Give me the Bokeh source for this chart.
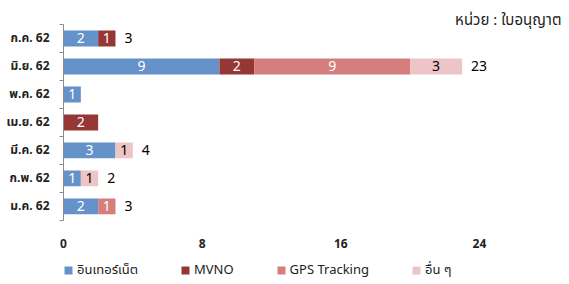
from bokeh.plotting import figure
from bokeh.models import (Range1d, FixedTicker, Legend, LegendItem, Label, ColumnDataSource)
from bokeh.embed import file_html
from bokeh.resources import INLINE

# ---- data (bottom to top) ----
categories = ['ม.ค. 62', 'ก.พ. 62', 'มี.ค. 62', 'เม.ย. 62', 'พ.ค. 62', 'มิ.ย. 62', 'ก.ค. 62']
internet = [2, 1, 3, 0, 1, 9, 2]
mvno     = [0, 0, 0, 2, 0, 2, 1]
gps      = [1, 0, 0, 0, 0, 9, 0]
other    = [0, 1, 1, 0, 0, 3, 0]
totals_shown = [3, 2, 4, None, None, 23, 3]
series_names = ['อินเทอร์เน็ต', 'MVNO', 'GPS Tracking', 'อื่น ๆ']
series_keys = ['internet', 'mvno', 'gps', 'other']
colors = ['#6592C8', '#953735', '#D47E7E', '#EDC5C6']
label_colors = ['white', 'white', 'white', 'black']
x_ticks = [0, 8, 16, 24]
unit_text = 'หน่วย : ใบอนุญาต'

THAI_FONT = "Tahoma, 'Noto Sans Thai', 'Noto Sans', sans-serif"
NUM_FONT = "'Noto Sans', sans-serif"

n = len(categories)
ypos = [i + 0.5 for i in range(n)]   # category slot centres
src = ColumnDataSource(dict(y=ypos, internet=internet, mvno=mvno, gps=gps, other=other))

# frame also holds the unit note (top), totals (right) and legend (bottom)
X_END = 28.85
Y_END = n + 0.5
Y_START = -2.15

p = figure(y_range=Range1d(Y_START, Y_END),
           x_range=Range1d(x_ticks[0], X_END),
           frame_width=500, frame_height=270,
           min_border_left=63, min_border_right=0, min_border_top=10, min_border_bottom=0,
           output_backend="svg", toolbar_location=None)
p.outline_line_color = None
p.grid.grid_line_color = None
p.background_fill_color = None
p.border_fill_color = "white"

# bars
renderers = p.hbar_stack(series_keys, y='y', height=0.57, fill_color=colors,
                         line_color=None, source=src)

# in-segment labels
seg = dict(x=[], y=[], text=[], color=[])
data = [internet, mvno, gps, other]
for i in range(n):
    left = 0
    for s, vals in enumerate(data):
        v = vals[i]
        if v > 0:
            seg['x'].append(left + v / 2)
            seg['y'].append(ypos[i])
            seg['text'].append(str(v))
            seg['color'].append(label_colors[s])
        left += v
p.text(x='x', y='y', text='text', text_color='color', source=ColumnDataSource(seg),
       text_align='center', text_baseline='middle', text_font_size='14px',
       text_font={'value': NUM_FONT})

# totals
tot = dict(x=[], y=[], text=[])
for i in range(n):
    if totals_shown[i] is not None:
        tot['x'].append(totals_shown[i])
        tot['y'].append(ypos[i])
        tot['text'].append(str(totals_shown[i]))
p.text(x='x', y='y', text='text', source=ColumnDataSource(tot), x_offset=9,
       text_align='left', text_baseline='middle', text_font_size='14px',
       text_color='black', text_font={'value': NUM_FONT})

# x axis (labels lifted above the legend strip)
p.xaxis.ticker = FixedTicker(ticks=x_ticks)
p.xaxis.axis_line_color = None
p.xaxis.major_tick_line_color = None
p.xaxis.minor_tick_line_color = None
p.xaxis.major_tick_out = 0
p.xaxis.major_label_standoff = -42
p.xaxis.major_label_text_font_size = '12px'
p.xaxis.major_label_text_font_style = 'bold'
p.xaxis.major_label_text_font = NUM_FONT
p.xaxis.major_label_text_color = '#222222'

# y axis: labels at slot centres, ticks at slot boundaries
p.yaxis.bounds = (0, n)
p.yaxis.ticker = FixedTicker(ticks=ypos, minor_ticks=list(range(n + 1)))
p.yaxis.major_label_overrides = {y: c for y, c in zip(ypos, categories)}
p.yaxis.major_tick_line_color = None
p.yaxis.minor_tick_out = 4
p.yaxis.minor_tick_in = 0
p.yaxis.minor_tick_line_color = '#8c8c8c'
p.yaxis.axis_line_color = '#8c8c8c'
p.yaxis.major_label_standoff = 8
p.yaxis.major_label_text_font_size = '12px'
p.yaxis.major_label_text_font_style = 'bold'
p.yaxis.major_label_text_font = THAI_FONT
p.yaxis.major_label_text_color = '#222222'

# legend (bottom strip of the frame)
legend = Legend(items=[LegendItem(label=nm, renderers=[r]) for nm, r in zip(series_names, renderers)],
                orientation='horizontal', location=(0, 0),
                glyph_width=10, glyph_height=10, label_standoff=4, spacing=42,
                padding=0, margin=0, border_line_color=None, background_fill_alpha=0,
                label_text_font_size='13px', label_text_font=THAI_FONT,
                label_text_color='#222222', label_height=14)
p.add_layout(legend)

# unit text
p.add_layout(Label(x=X_END, y=n, x_offset=-2, y_offset=4,
                   text=unit_text, text_align='right', text_baseline='middle',
                   text_font_size='15px', text_font=THAI_FONT, text_color='#222222'))

open("out.html", "w").write(file_html(p, INLINE))
